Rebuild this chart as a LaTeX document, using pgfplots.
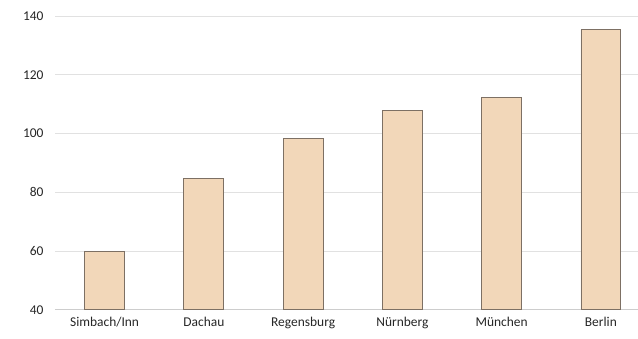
\documentclass[border=0pt]{standalone}
\usepackage{pgfplots}
\pgfplotsset{compat=1.18}
\usepackage{fontspec}
\setmainfont{Carlito}
\definecolor{barfill}{RGB}{242,215,185}
\definecolor{barline}{RGB}{125,112,100}
\definecolor{gridc}{RGB}{225,225,225}
\begin{document}
\begin{tikzpicture}
\begin{axis}[
  at={(0,0)}, anchor=south west,
  scale only axis,
  width=583bp, height=294bp,
  xmin=-0.5, xmax=5.37,
  ymin=40, ymax=140,
  ytick={40,60,...,140},
  xtick={0,1,2,3,4,5},
  xticklabels={Simbach/Inn,Dachau,Regensburg,Nürnberg,München,Berlin},
  axis line style={draw=none},
  axis x line*=bottom,
  x axis line style={draw=gridc!80!gray, line width=0.8pt},
  axis y line*=left,
  y axis line style={draw=none},
  ymajorgrids, grid style={gridc, line width=0.8pt},
  major tick length=0pt,
  tick label style={font=\fontsize{13.5}{15}\selectfont, text=black!85},
  /pgf/number format/assume math mode=true,
  yticklabel style={xshift=-8bp},
  xticklabel style={yshift=-4bp},
  clip=false,
]
\addplot[ybar, bar width=40bp, fill=barfill, draw=barline, line width=0.8pt]
  coordinates {(0,60) (1,84.6) (2,98.4) (3,107.7) (4,112.4) (5,135.3)};
\end{axis}
\path[use as bounding box] (-55bp,-29bp) rectangle (583bp,310bp);
\end{tikzpicture}
\end{document}
